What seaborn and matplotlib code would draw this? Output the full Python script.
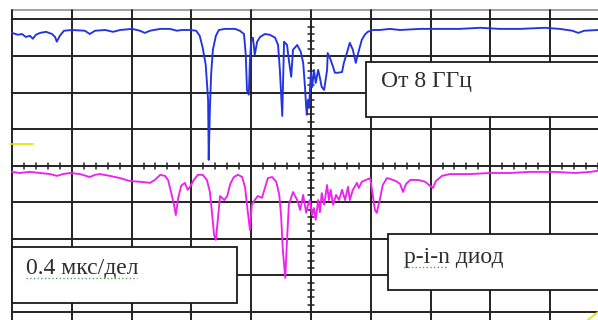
import numpy as np
import pandas as pd
import matplotlib
matplotlib.use("Agg")
import matplotlib.pyplot as plt
from matplotlib.patches import Rectangle
import seaborn as sns

# Scope traces: x in divisions (0.4 us/div), y in divisions
blue_x = [0.00, 0.10, 0.17, 0.23, 0.30, 0.35, 0.40, 0.47, 0.57, 0.67, 0.72, 0.75, 0.80, 0.87,
          1.00, 1.22, 1.30, 1.39, 1.56, 1.69, 1.81, 2.01, 2.14, 2.22, 2.31, 2.48, 2.64, 2.76,
          2.84, 2.98, 3.08, 3.14, 3.19, 3.24, 3.28, 3.29, 3.31, 3.33, 3.36, 3.41, 3.46, 3.56,
          3.73, 3.81, 3.88, 3.91, 3.93, 3.96, 3.98, 4.00, 4.03, 4.06, 4.10, 4.15, 4.23, 4.31,
          4.40, 4.45, 4.48, 4.52, 4.55, 4.60, 4.63, 4.67, 4.70, 4.77, 4.83, 4.87, 4.90, 4.92,
          4.93, 4.95, 4.97, 4.98, 5.00, 5.02, 5.05, 5.08, 5.12, 5.15, 5.18, 5.22, 5.27, 5.28,
          5.33, 5.37, 5.40, 5.45, 5.52, 5.55, 5.60, 5.65, 5.70, 5.75, 5.79, 5.85, 5.90, 5.95,
          6.04, 6.15, 6.32, 6.49, 6.82, 7.16, 7.49, 7.83, 8.16, 8.50, 8.91, 9.16, 9.37, 9.47,
          9.57, 9.80]
blue_y = [3.63, 3.58, 3.60, 3.52, 3.55, 3.47, 3.58, 3.63, 3.66, 3.60, 3.52, 3.39, 3.55, 3.69,
          3.71, 3.69, 3.60, 3.69, 3.71, 3.66, 3.71, 3.74, 3.69, 3.63, 3.69, 3.74, 3.74, 3.69,
          3.71, 3.71, 3.69, 3.55, 3.22, 2.76, 1.80, 0.16, 1.53, 2.48, 3.17, 3.55, 3.71, 3.74,
          3.74, 3.69, 3.60, 3.03, 2.07, 1.94, 2.89, 3.39, 3.50, 3.03, 3.39, 3.52, 3.60, 3.58,
          3.50, 3.30, 2.62, 1.36, 3.39, 3.30, 2.89, 2.43, 3.17, 3.30, 3.11, 2.81, 2.15, 1.61,
          1.39, 1.80, 1.58, 1.99, 2.54, 2.15, 2.62, 2.26, 2.62, 2.40, 2.15, 2.07, 2.62, 3.08,
          2.89, 2.70, 2.54, 2.54, 2.56, 2.81, 3.08, 3.36, 3.17, 2.81, 3.08, 3.44, 3.58, 3.66,
          3.71, 3.71, 3.74, 3.71, 3.74, 3.74, 3.74, 3.77, 3.74, 3.74, 3.77, 3.74, 3.69, 3.63,
          3.69, 3.71]

pink_x = [0.00, 0.13, 0.30, 0.47, 0.64, 0.75, 0.85, 0.97, 1.14, 1.30, 1.39, 1.47, 1.64, 1.81,
          1.91, 1.97, 2.14, 2.31, 2.39, 2.48, 2.56, 2.61, 2.66, 2.71, 2.74, 2.78, 2.83, 2.89,
          2.94, 2.99, 3.04, 3.11, 3.19, 3.26, 3.31, 3.34, 3.38, 3.41, 3.45, 3.48, 3.55, 3.60,
          3.65, 3.71, 3.78, 3.85, 3.90, 3.93, 3.98, 4.01, 4.06, 4.11, 4.18, 4.23, 4.28, 4.35,
          4.42, 4.47, 4.50, 4.53, 4.57, 4.60, 4.63, 4.70, 4.77, 4.82, 4.87, 4.92, 4.95, 4.98,
          5.02, 5.05, 5.08, 5.12, 5.15, 5.18, 5.22, 5.27, 5.30, 5.33, 5.37, 5.42, 5.47, 5.52,
          5.57, 5.62, 5.65, 5.70, 5.77, 5.80, 5.85, 5.92, 5.99, 6.02, 6.07, 6.10, 6.15, 6.20,
          6.27, 6.32, 6.42, 6.49, 6.54, 6.59, 6.66, 6.79, 6.91, 6.99, 7.04, 7.09, 7.19, 7.32,
          7.66, 7.99, 8.33, 8.66, 9.08, 9.42, 9.67, 9.80]
pink_y = [-0.17, -0.20, -0.17, -0.20, -0.23, -0.28, -0.23, -0.20, -0.23, -0.31, -0.25, -0.23,
          -0.28, -0.34, -0.39, -0.42, -0.44, -0.47, -0.39, -0.25, -0.28, -0.39, -0.72, -1.07,
          -1.35, -0.88, -0.55, -0.47, -0.66, -0.55, -0.39, -0.25, -0.25, -0.39, -0.72, -1.21,
          -1.89, -2.03, -1.35, -0.83, -0.94, -0.83, -0.50, -0.31, -0.25, -0.31, -0.61, -1.07,
          -1.76, -1.07, -0.94, -0.83, -0.88, -0.61, -0.34, -0.31, -0.44, -0.80, -1.35, -2.31,
          -3.07, -2.03, -1.07, -0.72, -0.94, -1.21, -0.80, -1.29, -1.07, -0.94, -1.35, -1.16,
          -1.48, -0.94, -1.27, -0.75, -1.07, -0.53, -0.94, -0.66, -1.07, -0.80, -0.94, -0.66,
          -0.94, -0.58, -0.94, -0.66, -0.47, -0.61, -0.44, -0.39, -0.34, -0.66, -1.21, -1.29,
          -0.94, -0.53, -0.34, -0.36, -0.42, -0.50, -0.72, -0.50, -0.39, -0.39, -0.44, -0.55,
          -0.61, -0.42, -0.28, -0.23, -0.23, -0.20, -0.20, -0.17, -0.17, -0.20, -0.17, -0.14]

labels = ["От 8 ГГц", "0.4 мкс/дел", "p-i-n диод"]

sns.set_style("white")
plt.rcParams["font.family"] = ["Liberation Serif", "DejaVu Serif"]

fig = plt.figure(figsize=(5.98, 3.2), dpi=100)
ax = fig.add_axes([0, 0, 1, 1])

grid_c = "#222222"
# scope graticule
ax.plot([0, 10.2], [4.26, 4.26], color="#9a9a9a", lw=1.3, zorder=1)
for gx in range(0, 11):
    ax.plot([gx, gx], [-4.3, 4.26], color=grid_c, lw=1.4, zorder=1)
for gy in range(-4, 5):
    ax.plot([0, 10.2], [gy, gy], color=grid_c, lw=1.4, zorder=1)
for mx in np.arange(0, 10.01, 0.2):
    ax.plot([mx, mx], [-0.08, 0.08], color=grid_c, lw=1.1, zorder=1)
for my in np.arange(-4, 4.01, 0.2):
    ax.plot([4.95, 5.05], [my, my], color=grid_c, lw=1.1, zorder=1)

# channel markers
ax.plot([-0.03, 0.35], [0.60, 0.60], color="#e8e000", lw=1.2, zorder=1)
ax.plot([9.63, 9.8], [-4.22, -4.0], color="#e8e000", lw=1.2, zorder=1)

traces = pd.concat([
    pd.DataFrame({"x": blue_x, "y": blue_y, "ch": "blue"}),
    pd.DataFrame({"x": pink_x, "y": pink_y, "ch": "pink"}),
])
sns.lineplot(data=traces, x="x", y="y", hue="ch", estimator=None, sort=False,
             palette={"blue": "#2233e0", "pink": "#ee22ee"}, lw=1.35,
             legend=False, ax=ax, zorder=3)
ax.set_xlim(-0.2, 9.8)
ax.set_ylim(-4.22, 4.53)
ax.axis("off")

# annotation boxes
boxes = [(5.92, 1.33, 4.5, 1.51), (0.0, -3.75, 3.76, 1.53), (6.29, -3.40, 4.0, 1.54)]
for (bx, by, bw, bh) in boxes:
    ax.add_patch(Rectangle((bx, by), bw, bh, facecolor="white", edgecolor="#1a1a1a",
                           lw=1.3, zorder=4))
text_pos = [(6.17, 2.29), (0.23, -2.80), (6.56, -2.52)]
for (tx, ty), lab in zip(text_pos, labels):
    ax.text(tx, ty, lab, fontsize=17, color="#2e2e2e", ha="left", va="center", zorder=5)

# spell-check underlines
ax.plot([0.23, 2.09], [-3.07, -3.07], color="#5aa05a", lw=1.0, ls=":", zorder=5)
ax.plot([6.56, 7.29], [-2.77, -2.77], color="#5aa05a", lw=1.0, ls=":", zorder=5)

fig.savefig("out.png", dpi=100)
